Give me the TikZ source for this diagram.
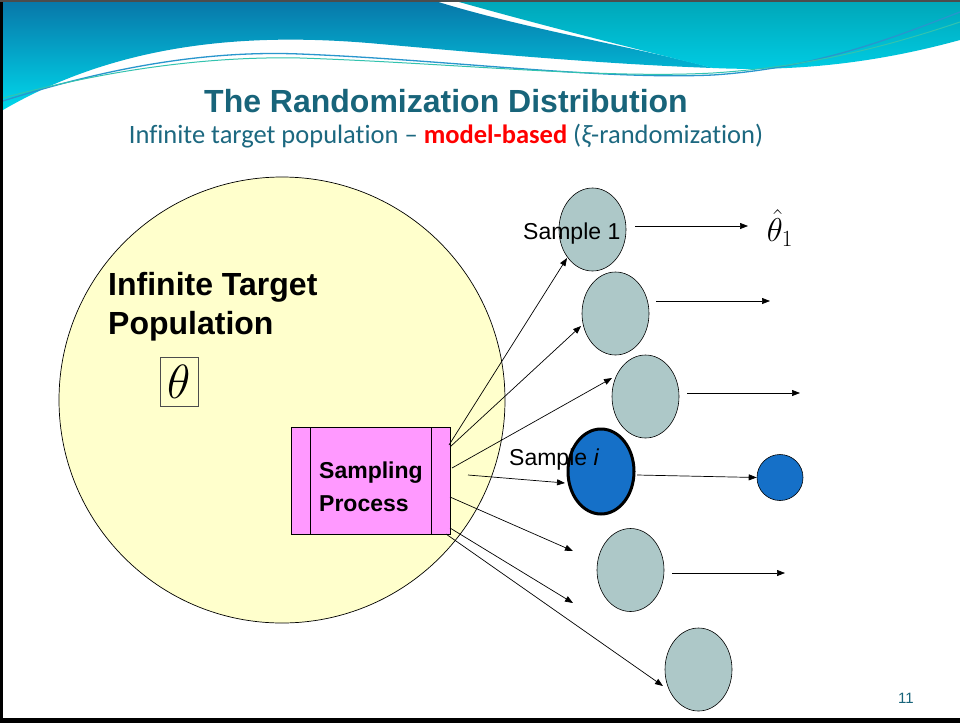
\RequirePackage{fix-cm}
\documentclass[tikz,border=0pt]{standalone}
\usepackage[no-math]{fontspec}
\setmainfont{Liberation Sans}
\newfontfamily\calib[Ligatures={TeX,NoCommon}]{Carlito}
\usetikzlibrary{arrows.meta,shapes.geometric}
\definecolor{titlec}{RGB}{24,100,122}
\definecolor{subc}{RGB}{28,104,128}
\definecolor{popc}{RGB}{255,255,204}
\definecolor{sampc}{RGB}{173,200,200}
\definecolor{bluec}{RGB}{21,112,200}
\definecolor{magc}{RGB}{255,153,255}
\definecolor{hdA1}{RGB}{8,118,168}
\definecolor{hdA2}{RGB}{0,216,235}
\definecolor{hdB1}{RGB}{0,166,184}
\definecolor{hdB2}{RGB}{0,152,218}
\definecolor{hdB3}{RGB}{0,205,228}
\definecolor{waveA}{RGB}{40,150,205}
\definecolor{waveB}{RGB}{50,195,175}
\tikzset{
  arr/.style={-{Triangle[length=8pt,width=6pt]}, line width=0.7pt, black},
  sampell/.style={ellipse, draw=black, line width=0.6pt, fill=sampc, inner sep=0pt, minimum width=67pt, minimum height=83pt},
  lbl/.style={inner sep=0pt, font=\fontsize{23}{27}\selectfont},
}
\begin{document}
\begin{tikzpicture}[x=1pt,y=-1pt]
\useasboundingbox (0,0) rectangle (960,723);
\fill[white] (0,0) rectangle (960,723);
% header region A
\shade[top color=hdA1, bottom color=hdA2]
  (3,0) -- (432,0) .. controls (520,28) and (640,48) .. (713,68)
  .. controls (600,64) and (470,52) .. (380,44)
  .. controls (250,32) and (120,42) .. (3,110) -- cycle;
% header region B
\shade[top color=hdB1, middle color=hdB2, bottom color=hdB3]
  (452,0) -- (960,0) -- (960,40) .. controls (880,62) and (800,72) .. (713,68)
  .. controls (640,50) and (540,25) .. (452,0) -- cycle;
% wave lines
\draw[line width=1.3pt, color=waveA]
  (3,101) .. controls (100,70) and (200,50) .. (300,54)
  .. controls (450,60) and (600,80) .. (713,75)
  .. controls (820,68) and (900,35) .. (960,12);
\draw[line width=1pt, color=waveB]
  (3,98) .. controls (100,72) and (200,56) .. (300,58)
  .. controls (450,63) and (600,79) .. (713,73)
  .. controls (820,66) and (900,42) .. (960,22);
% frame
\fill[black] (0,0) rectangle (3,723);
\fill[black] (0,718) rectangle (960,723);
\draw[gray!60!black, line width=1.5pt] (0,0.75) -- (960,0.75);
% title
\node[anchor=base, inner sep=0pt, text=titlec, font=\bfseries\fontsize{32}{36}\selectfont] (title) at (446,112) {The Randomization Distribution};
\node[anchor=base, inner sep=0pt, text=subc, font=\calib\fontsize{26.5}{30}\selectfont] (subtitle) at (446,143)
  {Infinite target population – \textcolor{red}{\bfseries model-based} ({\itshape ξ}-randomization)};
% population
\node[circle, draw=black, line width=0.7pt, fill=popc, minimum size=446pt, inner sep=0pt] (pop) at (282,400) {};
\node[anchor=base west, inner sep=0pt, font=\bfseries\fontsize{32}{36}\selectfont] (pl1) at (108,295) {Infinite Target};
\node[anchor=base west, inner sep=0pt, font=\bfseries\fontsize{32}{36}\selectfont] (pl2) at (108,334) {Population};
\node[draw=black!70, line width=0.6pt, minimum width=38pt, minimum height=49pt, inner sep=0pt, font=\fontsize{48}{52}\selectfont] (theta) at (179,381.5) {$\theta$};
% sampling process
\node[draw=black, line width=0.7pt, fill=magc, minimum width=159pt, minimum height=107pt, inner sep=0pt] (sp) at (370.5,481) {};
\draw[line width=0.7pt] (310,427.5) -- (310,534.5);
\draw[line width=0.7pt] (431,427.5) -- (431,534.5);
\node[anchor=base west, inner sep=0pt, font=\bfseries\fontsize{23}{27}\selectfont] (spl1) at (319,478) {Sampling};
\node[anchor=base west, inner sep=0pt, font=\bfseries\fontsize{23}{27}\selectfont] (spl2) at (319,511) {Process};
% sample ellipses
\node[sampell] (e1) at (592.5,229.5) {};
\node[sampell] (e2) at (615.5,313.5) {};
\node[sampell] (e3) at (645.5,396.5) {};
\node[ellipse, draw=black, line width=3pt, fill=bluec, inner sep=0pt, minimum width=66pt, minimum height=85pt] (ei) at (601,471.5) {};
\node[sampell] (e5) at (630.5,570) {};
\node[sampell] (e6) at (698.5,669.5) {};
\node[circle, draw=black, line width=0.6pt, fill=bluec, minimum size=46pt, inner sep=0pt] (est) at (780,477.5) {};
% labels
\node[lbl, anchor=base west] (s1l) at (523,239) {Sample 1};
\node[lbl, anchor=base west] (sil) at (509,465) {Sample \textit{i}};
\node[inner sep=0pt, font=\fontsize{33}{36}\selectfont] (th1) at (780,228) {$\hat{\theta}_1$};
\node[anchor=base, inner sep=0pt, text=titlec, font=\fontsize{15}{18}\selectfont] (num) at (906,703) {11};
% arrow coordinates
\coordinate (a1s) at (449,445); \coordinate (a1t) at (567,258);
\coordinate (a2s) at (450,447); \coordinate (a2t) at (581,326);
\coordinate (a3s) at (452,468); \coordinate (a3t) at (612,378);
\coordinate (a4s) at (468,475); \coordinate (a4t) at (565,483);
\coordinate (a5s) at (450,497); \coordinate (a5t) at (573,551);
\coordinate (a6s) at (450,528); \coordinate (a6t) at (573,603);
\coordinate (a7s) at (446,534); \coordinate (a7t) at (663,686);
\draw[arr] (a1s) -- (a1t);
\draw[arr] (a2s) -- (a2t);
\draw[arr] (a3s) -- (a3t);
\draw[arr] (a4s) -- (a4t);
\draw[arr] (a5s) -- (a5t);
\draw[arr] (a6s) -- (a6t);
\draw[arr] (a7s) -- (a7t);
% right arrows
\coordinate (r1s) at (635,226); \coordinate (r1t) at (748,226);
\coordinate (r2s) at (656,301); \coordinate (r2t) at (770,301);
\coordinate (r3s) at (687,393); \coordinate (r3t) at (800,393);
\coordinate (r4s) at (637,475);
\coordinate (r5s) at (672,573); \coordinate (r5t) at (785,573);
\draw[arr] (r1s) -- (r1t);
\draw[arr] (r2s) -- (r2t);
\draw[arr] (r3s) -- (r3t);
\draw[arr] (r4s) -- (est.west);
\draw[arr] (r5s) -- (r5t);
\end{tikzpicture}
\end{document}
